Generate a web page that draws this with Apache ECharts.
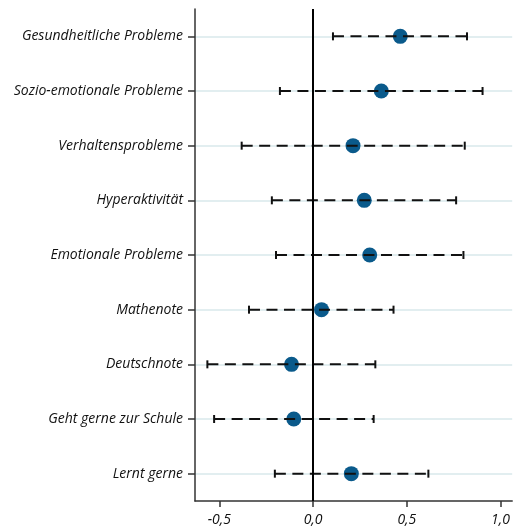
<!DOCTYPE html>
<html><head><meta charset="utf-8">
<script src="https://cdn.jsdelivr.net/npm/echarts@6/dist/echarts.min.js"></script>
<style>html,body{margin:0;padding:0;background:#fff}#c{width:513px;height:531px}</style>
</head><body><div id="c"></div>
<script>
const categories = ['Gesundheitliche Probleme','Sozio-emotionale Probleme','Verhaltensprobleme','Hyperaktivität','Emotionale Probleme','Mathenote','Deutschnote','Geht gerne zur Schule','Lernt gerne'];
const estimates = [0.465, 0.364, 0.213, 0.273, 0.302, 0.045, -0.115, -0.103, 0.204];
const lower = [0.106, -0.177, -0.381, -0.220, -0.198, -0.342, -0.564, -0.528, -0.204];
const upper = [0.821, 0.904, 0.809, 0.763, 0.802, 0.429, 0.332, 0.323, 0.615];
const xTicks = [-0.5, 0, 0.5, 1.0];

const chart = echarts.init(document.getElementById('c'));
const font = 'Open Sans';
chart.setOption({
  animation: false,
  grid: {left: 195, right: 0, top: 9, bottom: 30},
  xAxis: {
    type: 'value', min: -0.63, max: 1.062,
    axisLine: {show: true, onZero: false, lineStyle: {color: '#333', width: 1.5}},
    axisTick: {show: true, length: 6, customValues: xTicks, lineStyle: {color: '#333', width: 1.5}},
    axisLabel: {customValues: xTicks, margin: 12, color: '#111', fontSize: 14, fontStyle: 'italic', fontFamily: font,
      formatter: v => v.toFixed(1).replace('.', ',')},
    splitLine: {show: false}
  },
  yAxis: {
    type: 'category', data: categories, inverse: true,
    axisLine: {show: true, onZero: false, lineStyle: {color: '#333', width: 1.5}},
    axisTick: {show: true, alignWithLabel: true, length: 7, lineStyle: {color: '#333', width: 1.5}},
    axisLabel: {margin: 12, color: '#111', fontSize: 14, fontStyle: 'italic', fontFamily: font},
    splitLine: {show: true, alignWithLabel: true, lineStyle: {color: '#e2eef0', width: 2}}
  },
  series: [
    {
      type: 'scatter', z: 3,
      data: estimates.map((v, i) => [v, i]),
      symbolSize: 15,
      itemStyle: {color: '#0a5a8b', opacity: 1},
      markLine: {silent: true, symbol: 'none', label: {show: false},
        lineStyle: {color: '#000', width: 2, type: 'solid'},
        data: [{xAxis: 0}]}
    },
    {
      type: 'custom', z: 4,
      data: lower.map((l, i) => [l, upper[i], i]),
      encode: {x: [0, 1], y: 2},
      renderItem: function (params, api) {
        const c = api.value(2);
        const p1 = api.coord([api.value(0), c]);
        const p2 = api.coord([api.value(1), c]);
        const h = 4;
        const st = {stroke: '#111', lineWidth: 2};
        return {type: 'group', children: [
          {type: 'line', shape: {x1: p1[0], y1: p1[1], x2: p2[0], y2: p2[1]}, style: {stroke: '#111', lineWidth: 2, lineDash: [11, 6.5]}},
          {type: 'line', shape: {x1: p1[0], y1: p1[1] - h, x2: p1[0], y2: p1[1] + h}, style: st},
          {type: 'line', shape: {x1: p2[0], y1: p2[1] - h, x2: p2[0], y2: p2[1] + h}, style: st}
        ]};
      }
    }
  ]
});
</script></body></html>
